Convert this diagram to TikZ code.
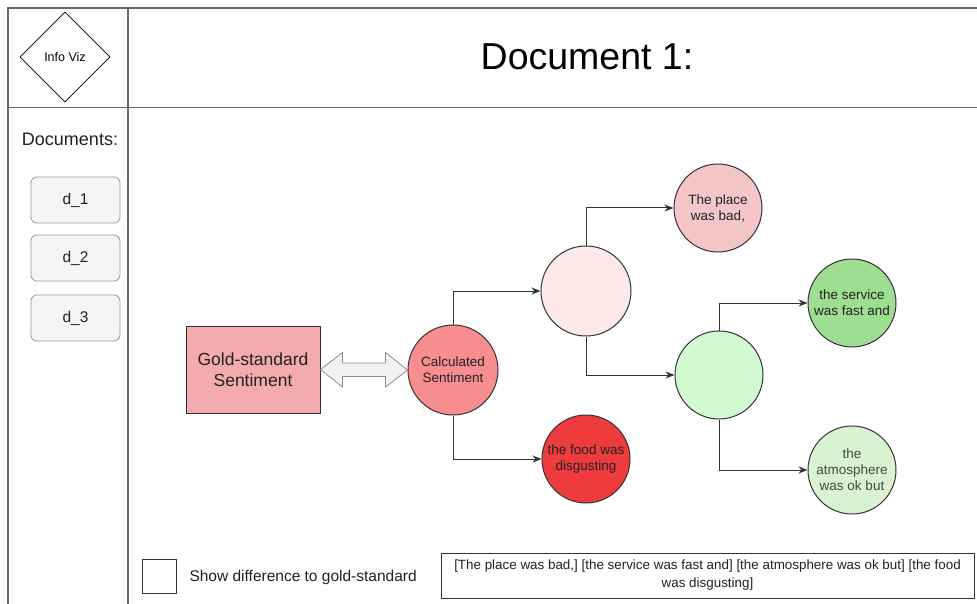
\documentclass[tikz,border=0pt]{standalone}
\usepackage{fontspec}
\setmainfont{Liberation Sans}
\usetikzlibrary{arrows.meta,shapes.geometric}

\definecolor{framegray}{HTML}{666666}
\definecolor{edgedark}{HTML}{333333}
\definecolor{goldfill}{HTML}{F4ABAD}
\definecolor{calcfill}{HTML}{F88D8F}
\definecolor{foodfill}{HTML}{EE3B3D}
\definecolor{placefill}{HTML}{F4C6C8}
\definecolor{pinkfill}{HTML}{FDE9E9}
\definecolor{greenfill}{HTML}{D2FAD0}
\definecolor{servicefill}{HTML}{9EDE93}
\definecolor{atmosfill}{HTML}{D8F2D2}
\definecolor{btnfill}{HTML}{F5F5F5}
\definecolor{btnedge}{HTML}{999999}
\definecolor{txt}{HTML}{222222}

% font size with baseline skip
\newcommand{\fs}[2]{\fontsize{#1pt}{#2pt}\selectfont}

\tikzset{
  frameline/.style={draw=framegray, line width=1.4pt},
  docbtn/.style={draw=btnedge, fill=btnfill, rounded corners=6pt, line width=0.8pt,
    minimum width=89pt, minimum height=46pt, inner sep=0pt, text=txt, font=\fs{15.5}{18}},
  bubble/.style={circle, draw=edgedark, line width=1pt, minimum size=88pt,
    inner sep=0pt, align=center, text=txt, font=\fs{13.5}{16}},
  conn/.style={draw=edgedark, line width=1pt, -{Stealth[length=9pt,width=7pt]}},
}

\begin{document}
\begin{tikzpicture}[x=1pt, y=-1pt]
  \useasboundingbox (0,0) rectangle (977,604);
  \fill[white] (0,0) rectangle (977,604);

  % page frame and panel dividers
  \draw[frameline] (8,604) -- (8,8) -- (977,8);
  \draw[frameline] (128,8) -- (128,604);
  \draw[frameline] (8,107.5) -- (977,107.5);

  % header
  \node[diamond, draw=black, line width=0.8pt, minimum width=90pt, minimum height=90pt,
        inner sep=0pt, font=\fs{12.5}{15}] (logo) at (65,57) {Info Viz};
  \node[font=\fs{37.5}{44}] (title) at (587,57) {Document 1:};

  % document list
  \node[font=\fs{18}{21}, text=txt] (doclabel) at (70,139) {Documents:};
  \node[docbtn] (d1) at (75.5,200) {d\_1};
  \node[docbtn] (d2) at (75.5,258) {d\_2};
  \node[docbtn] (d3) at (75.5,318) {d\_3};

  % sentiment tree
  \node[draw=edgedark, fill=goldfill, line width=1pt, minimum width=134pt,
        minimum height=87pt, inner sep=0pt, align=center, text=txt,
        font=\fs{17.5}{21}] (gold) at (253,369.5) {Gold-standard\\Sentiment};
  \node[bubble, fill=calcfill, minimum size=90pt] (calc) at (453,370) {Calculated\\Sentiment};
  \node[bubble, fill=pinkfill, minimum size=90pt] (pink) at (586,291) {};
  \node[bubble, fill=foodfill] (food) at (586,459) {the food was\\disgusting};
  \node[bubble, fill=placefill] (place) at (718,208) {The place\\was bad,};
  \node[bubble, fill=greenfill] (green) at (719,375) {};
  \node[bubble, fill=servicefill] (service) at (852,303) {the service\\was fast and};
  \node[bubble, fill=atmosfill, text=black!72] (atmos) at (852,470) {the\\atmosphere\\was ok but};

  % comparison arrow between gold standard and calculated sentiment
  \draw[draw=black!45, fill=black!5, line width=0.8pt, line join=miter]
    (gold.east) -- ++(22,-17) -- ++(0,10.5) -- ++(43,0) -- ++(0,-10.5)
    -- (calc.west) -- ++(-22,17) -- ++(0,-10.5) -- ++(-43,0) -- ++(0,10.5) -- cycle;

  % tree connectors
  \draw[conn] (calc.north) |- (pink.west);
  \draw[conn] (calc.south) |- (food.west);
  \draw[conn] (pink.north) |- (place.west);
  \draw[conn] (pink.south) |- (green.west);
  \draw[conn] (green.north) |- (service.west);
  \draw[conn] (green.south) |- (atmos.west);

  % footer controls
  \node[draw=edgedark, line width=1pt, minimum size=34pt, inner sep=0pt] (check) at (159,576) {};
  \node[anchor=west, font=\fs{15.5}{18}, text=txt] (checklabel) at (186,577) {Show difference to gold-standard};
  \node[draw=edgedark, line width=1pt, minimum width=533pt, minimum height=45pt,
        inner sep=0pt, align=center, text=txt, font=\fs{13.4}{18}] (sentences) at (707.5,575.5)
        {[The place was bad,] [the service was fast and] [the atmosphere was ok but] [the food\\was disgusting]};
\end{tikzpicture}
\end{document}
